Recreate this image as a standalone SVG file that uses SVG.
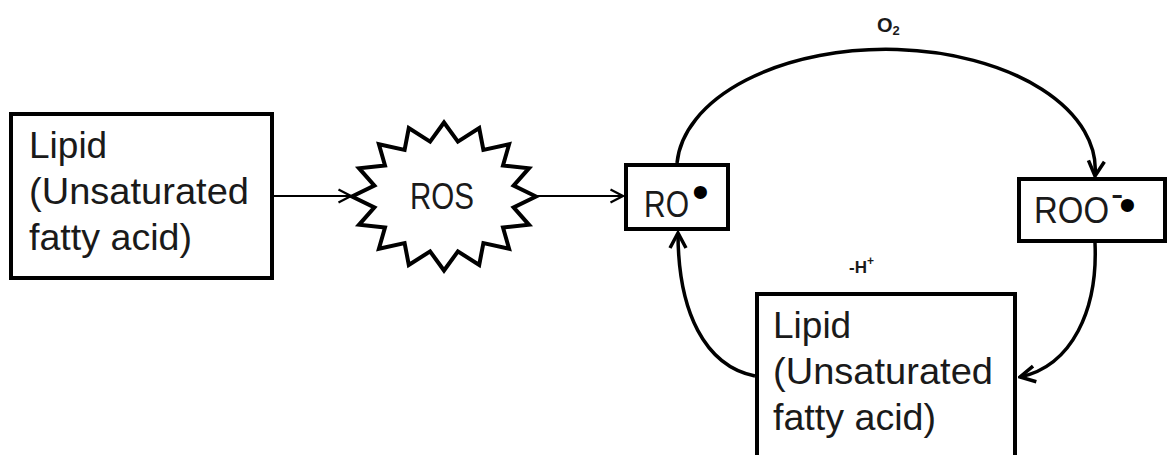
<svg xmlns="http://www.w3.org/2000/svg" width="1169" height="455" viewBox="0 0 1169 455">
<style>
.box{fill:#fff;stroke:#000;stroke-width:4}
.t{font-family:"Liberation Sans",Arial,sans-serif;font-size:37px;fill:#1a1a1a}
.dot{font-family:"Liberation Sans",Arial,sans-serif;font-size:48px;fill:#000}
.lbl{font-family:"Liberation Sans",Arial,sans-serif;font-weight:bold;fill:#1a1a1a}
.thin{fill:none;stroke:#000;stroke-width:2}
.thick{fill:none;stroke:#000;stroke-width:3.5}
</style>
<defs>
<marker id="ah" markerUnits="userSpaceOnUse" viewBox="0 0 16 16" refX="14.5" refY="8" markerWidth="16" markerHeight="16" orient="auto">
<path d="M2,1.5 L14.5,8 L2,14.5" fill="none" stroke="#000" stroke-width="2.2" stroke-linejoin="miter"/>
</marker>
<marker id="ahb" markerUnits="userSpaceOnUse" viewBox="0 0 20 20" refX="18" refY="10" markerWidth="20" markerHeight="20" orient="auto">
<path d="M3,2 L18,10 L3,18" fill="none" stroke="#000" stroke-width="3.5" stroke-linejoin="miter"/>
</marker>
</defs>
<rect width="1169" height="455" fill="#fff"/>
<g id="connectors">
<path class="thin" d="M274,196 L351,196" marker-end="url(#ah)"/>
<path class="thin" d="M536,196 L623,196" marker-end="url(#ah)"/>
<path class="thick" d="M677,163 A209,120 0 0 1 1095,176" marker-end="url(#ahb)"/>
<path class="thick" d="M1095,243 C1098,310 1072,366 1020,377" marker-end="url(#ahb)"/>
<path class="thick" d="M755,376 C705,366 678,312 678,233" marker-end="url(#ahb)"/>
</g>
<g id="lipid1">
<rect class="box" x="11" y="114" width="261" height="164"/>
<text class="t" x="29" y="158">Lipid</text>
<text class="t" x="29" y="204" textLength="220" lengthAdjust="spacingAndGlyphs">(Unsaturated</text>
<text class="t" x="29" y="250" textLength="163" lengthAdjust="spacingAndGlyphs">fatty acid)</text>
</g>
<g id="ros">
<polygon fill="#fff" stroke="#000" stroke-width="4" stroke-miterlimit="10" points="536,196.5 513.6,185.6 529,168.2 503,165.4 509.1,144.2 483.4,149.9 479.2,128.1 457.9,141.6 444,122.5 430.1,141.6 408.8,128.1 404.6,149.9 378.9,144.2 385,165.4 359,168.2 374.4,185.6 352,196.5 374.4,207.4 359,224.8 385,227.6 378.9,248.8 404.6,243.1 408.8,264.9 430.1,251.4 444,270.5 457.9,251.4 479.2,264.9 483.4,243.1 509.1,248.8 503,227.6 529,224.8 513.6,207.4"/>
<text class="t" x="410" y="209" textLength="64" lengthAdjust="spacingAndGlyphs">ROS</text>
</g>
<g id="ro">
<rect class="box" x="626" y="165" width="102" height="64"/>
<text class="t" x="644" y="217" textLength="45" lengthAdjust="spacingAndGlyphs">RO</text>
<text class="dot" x="692" y="208">•</text>
</g>
<g id="roo">
<rect class="box" x="1019" y="179" width="146" height="62"/>
<text class="t" x="1034" y="223" textLength="75" lengthAdjust="spacingAndGlyphs">ROO</text>
<text class="t" x="1111" y="206" font-size="19">-</text>
<text class="dot" x="1119" y="221">•</text>
</g>
<g id="lipid2">
<rect class="box" x="757" y="294" width="258" height="175"/>
<text class="t" x="773" y="338">Lipid</text>
<text class="t" x="773" y="384" textLength="220" lengthAdjust="spacingAndGlyphs">(Unsaturated</text>
<text class="t" x="773" y="430" textLength="163" lengthAdjust="spacingAndGlyphs">fatty acid)</text>
</g>
<g id="labels">
<text class="lbl" x="877" y="32" font-size="20">O<tspan font-size="13" dy="3">2</tspan></text>
<text class="lbl" x="849" y="273" font-size="17">-H<tspan font-size="12" dy="-8">+</tspan></text>
</g>
</svg>
